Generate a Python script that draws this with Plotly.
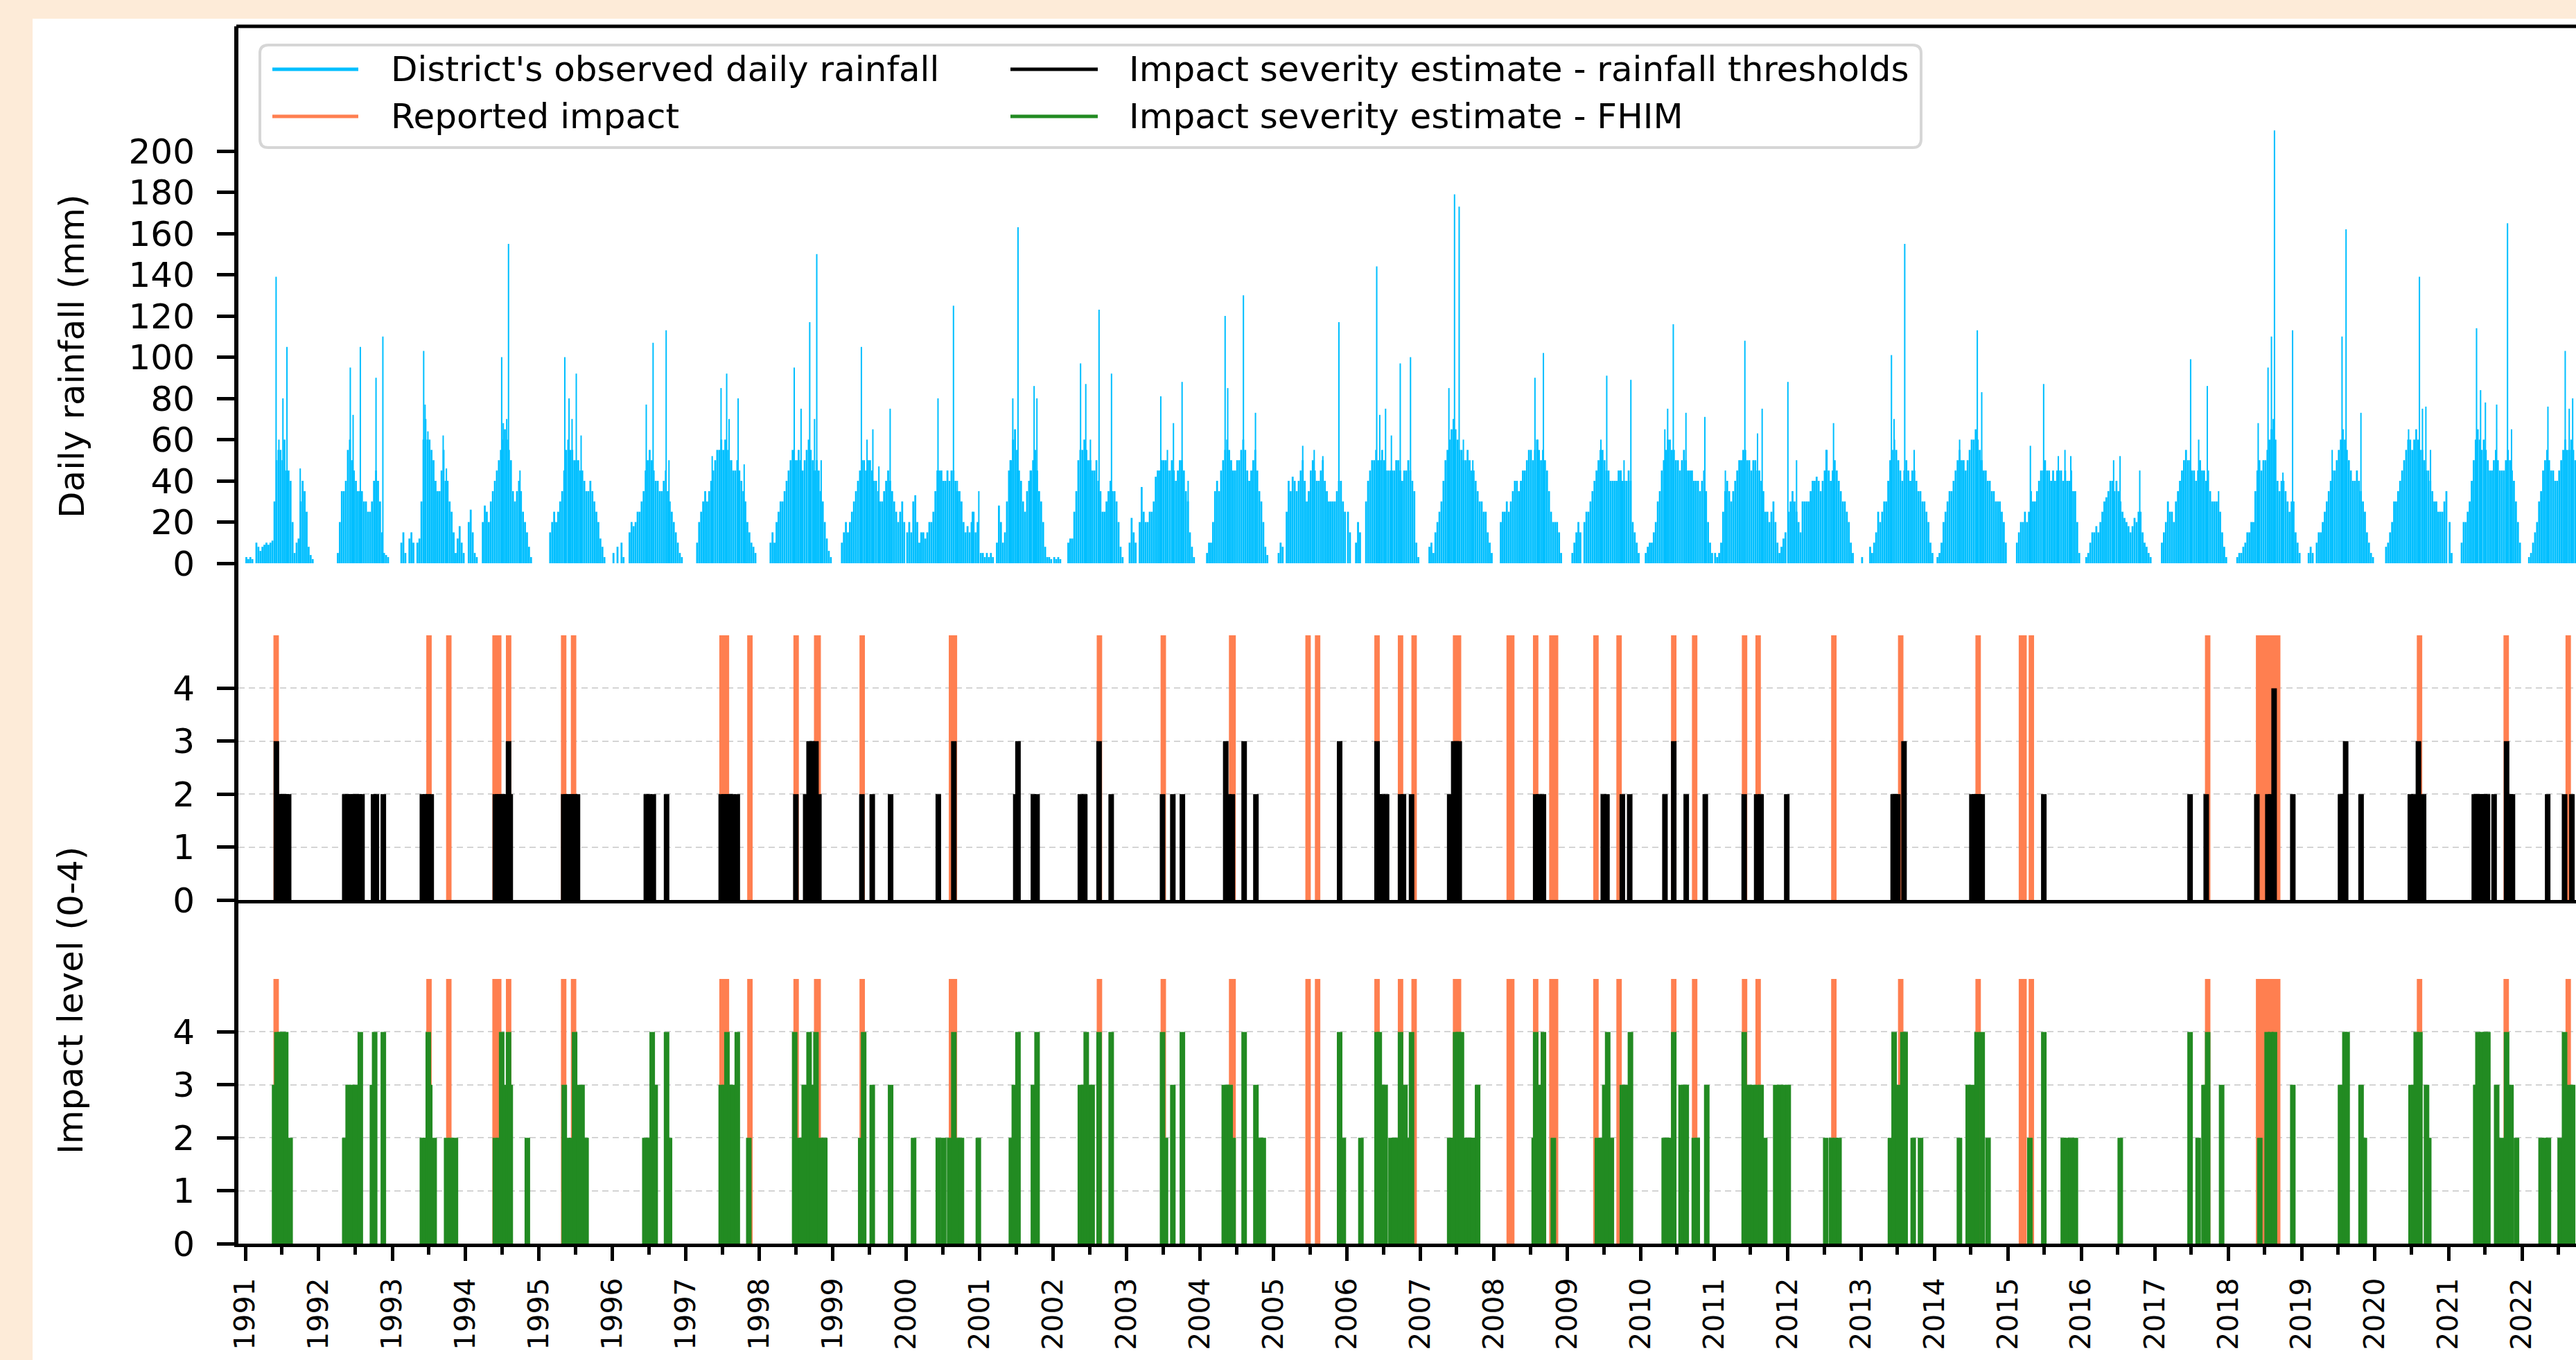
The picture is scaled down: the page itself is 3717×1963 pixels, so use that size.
import datetime as dt
import plotly.graph_objects as go
from plotly.subplots import make_subplots

# ------------------------------------------------------------------
# DATA
# District's observed daily rainfall, summarised per 10-day period (dekad)
# index k = days 10k .. 10k+9 of the year, values in mm
rain_1991 = [3,2,3,2,0,10,8,6,8,9,10,9,10,11,30,50,55,55,50,60,45,45,40,20,5,10,12,30,40,35,25,8,4,2,0,0]
rain_1992 = [0,0,0,0,0,0,0,0,0,5,20,35,35,40,55,60,50,45,40,35,35,35,30,30,25,25,30,40,45,40,30,15,5,4,3,0]
rain_1993 = [0,0,0,0,10,15,5,0,12,15,10,0,10,12,30,60,70,60,60,55,50,40,35,35,45,55,40,40,30,25,15,5,12,18,10,5]
rain_1994 = [0,20,26,15,5,3,0,0,20,28,25,20,30,35,40,45,50,55,60,65,60,55,50,35,30,35,40,35,25,20,15,8,3,0,0,0]
rain_1995 = [0,0,0,0,0,15,20,25,20,25,30,35,45,55,60,55,55,50,50,50,45,45,40,35,35,40,35,30,25,20,12,8,3,0,0,0]
rain_1996 = [5,0,8,0,10,3,0,0,15,20,18,20,25,25,30,35,45,50,55,50,45,40,40,35,35,40,45,35,30,25,20,15,10,5,3,0]
rain_1997 = [0,0,0,0,0,10,20,25,30,35,30,35,40,45,50,55,55,60,55,60,55,50,50,45,45,50,45,40,35,30,20,15,10,8,5,0]
rain_1998 = [0,0,0,0,0,10,15,10,20,25,30,30,35,40,45,50,55,50,50,55,50,45,50,55,60,55,50,45,50,45,35,30,20,12,6,3]
rain_1999 = [0,0,0,0,10,15,20,15,20,25,30,35,40,45,50,50,45,50,50,45,40,40,35,30,30,35,40,45,40,35,30,25,20,25,30,20]
rain_2000 = [15,20,15,30,33,20,10,15,15,12,15,20,20,25,35,45,45,45,40,40,45,40,45,45,40,35,35,30,20,15,18,15,20,25,15,20]
rain_2001 = [5,5,3,5,3,5,3,0,10,28,20,10,15,30,45,50,60,65,55,45,40,30,25,35,40,45,50,55,45,35,30,20,8,3,3,2]
rain_2002 = [3,2,3,2,0,0,0,10,12,12,25,35,50,55,55,60,55,50,50,45,45,50,40,35,25,25,30,35,40,35,35,30,20,8,3,0]
rain_2003 = [0,10,22,15,10,0,20,37,25,20,20,25,25,30,42,45,45,50,50,50,45,45,50,45,40,45,50,50,45,35,30,15,8,3,0,0]
rain_2004 = [0,0,0,5,10,10,20,35,40,35,45,50,55,60,55,50,45,45,50,50,55,60,55,45,40,45,50,55,45,35,30,20,8,4,0,0]
rain_2005 = [0,0,5,10,8,0,25,40,35,42,40,35,40,45,50,40,30,35,45,50,45,40,40,45,50,40,35,30,30,30,30,35,40,40,30,25]
rain_2006 = [25,15,0,0,10,20,15,0,0,30,40,45,50,50,55,50,50,55,50,45,45,45,45,45,50,50,45,40,45,45,50,45,40,35,10,3]
rain_2007 = [0,0,0,0,8,10,5,15,20,25,30,40,50,55,60,65,70,65,60,55,55,50,50,55,50,45,45,40,35,30,30,25,25,15,10,5]
rain_2008 = [0,0,0,20,25,25,30,25,30,35,40,40,35,40,45,45,50,55,55,50,55,60,55,50,55,50,45,35,25,20,20,20,15,5,0,0]
rain_2009 = [0,0,5,10,15,20,15,0,20,25,25,30,35,40,45,50,55,55,50,45,45,40,40,40,40,45,45,40,40,40,45,40,20,15,10,5]
rain_2010 = [0,0,5,8,10,10,15,20,30,35,45,50,55,60,60,55,55,50,50,45,50,55,50,45,45,45,40,40,40,35,40,45,35,20,10,5]
rain_2011 = [5,3,5,10,25,35,40,35,30,35,40,45,50,50,55,55,50,50,45,50,50,45,45,40,35,25,25,20,25,30,20,10,5,8,12,15]
rain_2012 = [25,30,35,30,25,20,15,30,30,30,30,35,40,40,42,40,35,40,45,55,45,40,45,50,45,40,35,30,30,25,20,10,5,0,0,0]
rain_2013 = [3,0,0,0,8,5,10,15,25,20,25,30,30,40,50,55,60,55,50,45,40,45,50,45,40,45,45,40,35,35,30,30,25,20,10,5]
rain_2014 = [0,3,5,10,20,25,30,35,35,40,45,50,55,50,50,45,50,55,60,60,65,60,55,50,45,45,40,40,35,35,30,30,30,25,20,10]
rain_2015 = [0,0,0,0,10,15,20,20,25,20,25,35,30,30,35,40,45,45,50,45,45,40,45,40,45,45,45,40,45,40,40,45,35,35,20,5]
rain_2016 = [0,0,3,5,10,15,15,18,15,20,25,30,32,35,40,40,35,40,35,30,25,22,20,18,15,18,22,20,25,25,15,10,8,5,3,0]
rain_2017 = [0,0,0,10,15,20,30,25,25,20,30,35,40,45,50,55,50,50,45,45,40,45,50,45,45,40,45,35,30,30,30,30,25,15,8,3]
rain_2018 = [0,0,0,0,3,5,5,8,10,15,15,20,20,35,45,50,45,50,50,55,60,65,70,60,40,35,40,40,35,30,25,30,30,15,10,5]
rain_2019 = [0,0,0,5,8,5,0,10,15,15,20,25,30,35,40,45,45,50,55,60,65,60,55,50,45,40,40,45,40,35,30,25,15,10,5,3]
rain_2020 = [0,0,0,0,0,8,10,15,20,30,30,35,40,45,50,55,60,60,55,60,65,60,55,55,50,45,45,40,35,30,30,25,25,25,30,35]
rain_2021 = [20,5,0,0,0,0,10,20,20,25,30,40,50,60,65,60,55,60,55,50,45,45,50,55,50,45,45,45,50,55,50,45,40,30,20,10]
rain_2022 = [0,0,0,3,5,10,15,20,30,35,45,50,55,50,45,45,40,40,45,50,55,60,55,55,60,55,50,45,40,35,30,25,20,10,5,0]

# Individual heavy-rain days: [day of year, mm]
peaks_1991 = [[154,139],[168,60],[188,80],[208,105],[274,46]]
peaks_1992 = [[158,95],[172,72],[208,105],[286,90],[320,110]]
peaks_1993 = [[157,103],[164,77],[178,64],[254,62],[270,46]]
peaks_1994 = [[180,100],[188,68],[205,70],[214,155],[271,45]]
peaks_1995 = [[129,100],[150,80],[165,70],[186,92],[210,62]]
peaks_1996 = [[169,77],[203,107],[268,113],[282,50]]
peaks_1997 = [[131,52],[175,85],[203,92],[215,70],[260,80],[290,48]]
peaks_1998 = [[174,95],[208,75],[251,117],[275,70],[286,150],[308,50]]
peaks_1999 = [[143,105],[171,60],[200,65],[230,47],[286,75]]
peaks_2000 = [[159,80],[236,125],[255,40],[330,25],[362,35]]
peaks_2001 = [[152,50],[165,80],[191,163],[252,45],[271,86],[285,80]]
peaks_2002 = [[137,97],[163,87],[186,60],[229,123],[291,92]]
peaks_2003 = [[171,81],[204,55],[234,68],[277,88],[307,40]]
peaks_2004 = [[126,120],[139,85],[217,130],[277,73]]
peaks_2005 = [[146,57],[203,55],[246,52],[326,117]]
peaks_2006 = [[149,144],[164,72],[193,75],[222,62],[266,97],[317,100]]
peaks_2007 = [[143,85],[171,179],[194,173],[215,60],[262,50]]
peaks_2008 = [[206,90],[220,60],[248,102]]
peaks_2009 = [[168,60],[197,91],[268,45],[283,50],[317,89]]
peaks_2010 = [[121,65],[135,75],[163,116],[226,73],[320,71]]
peaks_2011 = [[57,45],[154,108],[217,63],[240,75]]
peaks_2012 = [[3,88],[46,50],[193,55],[230,68]]
peaks_2013 = [[152,101],[165,70],[218,155],[265,55]]
peaks_2014 = [[126,60],[214,113],[236,83]]
peaks_2015 = [[113,57],[179,87],[252,52],[285,55],[314,52]]
peaks_2016 = [[162,50],[194,52],[292,45]]
peaks_2017 = [[179,99],[219,60],[262,86],[318,35]]
peaks_2018 = [[150,68],[199,95],[216,110],[231,210],[273,44],[321,113]]
peaks_2019 = [[153,55],[202,110],[222,162],[296,73]]
peaks_2020 = [[168,65],[222,139],[237,75],[254,76],[277,55]]
peaks_2021 = [[140,114],[160,84],[184,78],[240,77],[294,165],[314,65]]
peaks_2022 = [[130,76],[216,103],[236,75],[253,80]]

# Reported impact periods (decimal year, start / end)
reported_start = [1991.42,1993.50,1993.77,1994.40,1994.585,1995.335,1995.47,1997.49,1997.87,1998.50,
                  1998.78,1999.40,2000.615,2002.63,2003.50,2004.43,2005.47,2005.60,2006.41,2006.73,
                  2006.915,2007.48,2008.21,2008.57,2008.79,2009.39,2009.705,2010.45,2010.735,2011.415,
                  2011.60,2012.63,2013.54,2014.595,2015.185,2015.32,2017.72,2018.414,2020.605,2021.785,
                  2022.63]
reported_end   = [1991.42,1993.50,1993.77,1994.45,1994.585,1995.335,1995.47,1997.55,1997.87,1998.50,
                  1998.80,1999.40,2000.655,2002.63,2003.50,2004.45,2005.47,2005.60,2006.41,2006.73,
                  2006.915,2007.52,2008.245,2008.57,2008.84,2009.39,2009.705,2010.45,2010.735,2011.415,
                  2011.60,2012.63,2013.54,2014.595,2015.22,2015.32,2017.72,2018.674,2020.605,2021.785,
                  2022.63]
reported_level = 5

# Impact severity estimate - rainfall thresholds (decimal year, level)
threshold_time = [1991.423,1991.46,1991.49,1991.52,1991.56,1991.59,
                  1992.354,1992.393,1992.432,1992.471,1992.51,1992.549,1992.588,1992.745,1992.784,1992.878,
                  1993.41,1993.45,1993.49,1993.53,
                  1994.404,1994.435,1994.466,1994.505,1994.545,1994.584,1994.607,
                  1995.335,1995.366,1995.405,1995.444,1995.484,1995.523,
                  1996.46,1996.50,1996.555,1996.735,
                  1997.479,1997.518,1997.557,1997.596,1997.635,1997.698,
                  1998.496,1998.63,1998.676,1998.715,1998.77,1998.81,
                  1999.396,1999.537,1999.787,
                  2000.436,2000.647,
                  2001.49,2001.52,2001.73,2001.78,
                  2002.37,2002.43,2002.625,2002.79,
                  2003.49,2003.63,2003.76,
                  2004.35,2004.39,2004.44,2004.60,2004.76,
                  2005.90,
                  2006.41,2006.44,2006.48,2006.54,2006.73,2006.77,2006.88,
                  2007.40,2007.455,2007.49,2007.53,
                  2008.57,2008.61,2008.675,
                  2009.49,2009.54,2009.75,2009.85,
                  2010.33,2010.45,2010.62,2010.88,
                  2011.41,2011.58,2011.64,2011.99,
                  2013.437,2013.47,2013.50,2013.585,
                  2014.51,2014.545,2014.58,2014.61,2014.65,
                  2015.49,
                  2017.48,2017.70,
                  2018.39,2018.54,2018.58,2018.625,2018.88,
                  2019.53,2019.565,2019.60,2019.81,
                  2020.48,2020.53,2020.59,2020.66,
                  2021.35,2021.38,2021.42,2021.455,2021.49,2021.53,2021.62,2021.79,2021.84,2021.87,
                  2022.35,2022.58,2022.68]
threshold_level = [3,2,2,2,2,2,
                   2,2,2,2,2,2,2,2,2,2,
                   2,2,2,2,
                   2,2,2,2,2,3,2,
                   2,2,2,2,2,2,
                   2,2,2,2,
                   2,2,2,2,2,2,
                   2,2,3,3,3,2,
                   2,2,2,
                   2,3,
                   2,3,2,2,
                   2,2,3,2,
                   2,2,2,
                   3,2,2,3,2,
                   3,
                   3,2,2,2,2,2,2,
                   2,3,3,3,
                   2,2,2,
                   2,2,2,2,
                   2,3,2,2,
                   2,2,2,2,
                   2,2,2,3,
                   2,2,2,2,2,
                   2,
                   2,2,
                   2,2,2,4,2,
                   2,2,3,2,
                   2,2,3,2,
                   2,2,2,2,2,2,2,3,2,2,
                   2,2,2]

# Impact severity estimate - FHIM (decimal year, level)
fhim_time = [1991.399,1991.43,1991.47,1991.51,1991.55,1991.61,
             1992.354,1992.40,1992.45,1992.495,1992.565,1992.73,1992.76,1992.878,
             1993.41,1993.45,1993.49,1993.51,1993.57,1993.74,1993.80,1993.86,
             1994.404,1994.45,1994.49,1994.53,1994.584,1994.607,1994.84,
             1995.343,1995.39,1995.444,1995.484,1995.546,1995.585,1995.64,
             1996.44,1996.49,1996.54,1996.58,1996.735,1996.775,
             1997.479,1997.518,1997.557,1997.596,1997.635,1997.698,1997.855,
             1998.48,1998.535,1998.575,1998.61,1998.676,1998.715,1998.77,1998.83,1998.89,
             1999.38,1999.42,1999.537,1999.787,
             2000.10,2000.436,2000.51,2000.59,2000.647,2000.686,2000.75,2000.98,
             2001.43,2001.47,2001.52,2001.73,2001.78,
             2002.37,2002.42,2002.45,2002.49,2002.53,2002.625,2002.79,
             2003.49,2003.53,2003.63,2003.76,
             2004.33,2004.37,2004.41,2004.45,2004.60,2004.76,2004.82,2004.86,
             2005.90,2005.95,
             2006.19,2006.41,2006.44,2006.48,2006.52,2006.60,2006.64,2006.68,2006.73,2006.79,2006.83,2006.88,
             2007.40,2007.44,2007.48,2007.52,2007.56,2007.60,2007.64,2007.68,2007.72,2007.76,2007.78,
             2008.55,2008.57,2008.63,2008.675,2008.81,
             2009.41,2009.46,2009.51,2009.55,2009.60,2009.75,2009.79,2009.86,
             2010.32,2010.36,2010.40,2010.45,2010.55,2010.59,2010.62,2010.73,2010.77,2010.90,
             2011.41,2011.47,2011.53,2011.58,2011.64,2011.69,2011.84,2011.90,2011.95,2012.01,
             2012.52,2012.60,2012.65,2012.70,
             2013.40,2013.45,2013.50,2013.57,2013.60,2013.71,2013.81,
             2014.34,2014.46,2014.51,2014.58,2014.65,2014.73,
             2015.30,2015.49,2015.755,2015.80,2015.86,2015.92,
             2016.53,
             2017.48,2017.59,2017.67,2017.72,2017.91,
             2018.43,2018.53,2018.58,2018.63,2018.88,
             2019.53,2019.59,2019.62,2019.81,2019.855,
             2020.49,2020.56,2020.61,2020.70,2020.73,
             2021.37,2021.40,2021.455,2021.50,2021.535,2021.655,2021.72,2021.79,2021.85,2021.925,
             2022.26,2022.31,2022.36,2022.52,2022.58,2022.64,2022.69]
fhim_level = [3,4,4,4,4,2,
              2,3,3,3,4,3,4,4,
              2,2,4,3,2,2,2,2,
              2,2,4,3,4,3,2,
              3,2,2,4,3,3,2,
              2,2,4,3,4,2,
              3,3,4,3,3,4,2,
              4,2,2,3,4,3,4,2,2,
              2,4,3,3,
              2,2,2,2,4,2,2,2,
              2,3,4,3,4,
              3,3,4,3,3,4,4,
              4,2,3,4,
              3,3,3,2,4,3,2,2,
              4,2,
              2,4,4,3,3,2,2,2,4,3,2,4,
              2,2,4,4,4,2,2,2,2,2,3,
              2,4,3,4,2,
              2,2,3,4,2,3,3,4,
              2,2,2,4,3,3,3,2,2,3,
              4,3,3,3,3,2,3,3,3,3,
              2,2,2,2,
              2,4,3,4,4,2,2,
              2,3,3,4,4,2,
              2,4,2,2,2,2,
              2,
              4,2,3,4,3,
              2,4,4,4,3,
              3,4,4,3,2,
              3,4,4,3,2,
              3,4,4,4,4,3,2,4,3,2,
              2,2,2,2,4,3,3]

year_labels = [str(y) for y in range(1991, 2023)]
rain_ticks = [0, 20, 40, 60, 80, 100, 120, 140, 160, 180, 200]
impact_ticks = [0, 1, 2, 3, 4]

# ------------------------------------------------------------------
rain_dekads = {1991: rain_1991, 1992: rain_1992, 1993: rain_1993, 1994: rain_1994, 1995: rain_1995,
               1996: rain_1996, 1997: rain_1997, 1998: rain_1998, 1999: rain_1999, 2000: rain_2000,
               2001: rain_2001, 2002: rain_2002, 2003: rain_2003, 2004: rain_2004, 2005: rain_2005,
               2006: rain_2006, 2007: rain_2007, 2008: rain_2008, 2009: rain_2009, 2010: rain_2010,
               2011: rain_2011, 2012: rain_2012, 2013: rain_2013, 2014: rain_2014, 2015: rain_2015,
               2016: rain_2016, 2017: rain_2017, 2018: rain_2018, 2019: rain_2019, 2020: rain_2020,
               2021: rain_2021, 2022: rain_2022}
rain_peaks = {1991: peaks_1991, 1992: peaks_1992, 1993: peaks_1993, 1994: peaks_1994, 1995: peaks_1995,
              1996: peaks_1996, 1997: peaks_1997, 1998: peaks_1998, 1999: peaks_1999, 2000: peaks_2000,
              2001: peaks_2001, 2002: peaks_2002, 2003: peaks_2003, 2004: peaks_2004, 2005: peaks_2005,
              2006: peaks_2006, 2007: peaks_2007, 2008: peaks_2008, 2009: peaks_2009, 2010: peaks_2010,
              2011: peaks_2011, 2012: peaks_2012, 2013: peaks_2013, 2014: peaks_2014, 2015: peaks_2015,
              2016: peaks_2016, 2017: peaks_2017, 2018: peaks_2018, 2019: peaks_2019, 2020: peaks_2020,
              2021: peaks_2021, 2022: peaks_2022}


def dec2dt(y):
    yr = int(y)
    start = dt.datetime(yr, 1, 1)
    ndays = (dt.datetime(yr + 1, 1, 1) - start).days
    return start + dt.timedelta(days=(y - yr) * ndays)


DAY_MS = 86400000.0

fill_x, fill_y = [], []
for yr, vals in rain_dekads.items():
    for k, v in enumerate(vals):
        if v > 0:
            fill_x.append(dt.datetime(yr, 1, 1) + dt.timedelta(days=10 * k + 5))
            fill_y.append(v)
peak_x, peak_y = [], []
for yr, pk in rain_peaks.items():
    for doy, v in pk:
        peak_x.append(dt.datetime(yr, 1, 1) + dt.timedelta(days=doy - 1))
        peak_y.append(v)

rep_x, rep_w, rep_y = [], [], []
for s, e in zip(reported_start, reported_end):
    rep_x.append(dec2dt((s + e) / 2.0))
    rep_w.append(((e - s) * 365.25 + 27) * DAY_MS)
    rep_y.append(reported_level)


def spikes(times, levels):
    xs, ys = [], []
    for t, l in zip(times, levels):
        d = dec2dt(t)
        xs += [d, d, None]
        ys += [0, l, None]
    return xs, ys


thr_x, thr_y = spikes(threshold_time, threshold_level)
fh_x, fh_y = spikes(fhim_time, fhim_level)

# ------------------------------------------------------------------
W, H = 3717, 1963
PX_L, PX_R, PX_T, PX_B = 344, 3717, 38, 1795


def pxx(p):
    return (p - PX_L) / (PX_R - PX_L)


def pxy(p):
    return (PX_B - p) / (PX_B - PX_T)


BLUE = "#00BFFF"
ORANGE = "#FF7F50"
GREEN = "#228B22"
BEIGE = "#FDEBD8"
FONT = "DejaVu Sans"

fig = make_subplots(rows=3, cols=1, shared_xaxes=True, vertical_spacing=0)

fig.add_trace(go.Bar(x=fill_x, y=fill_y, width=9.5 * DAY_MS, marker_color=BLUE,
                     marker_line_width=0, name="District's observed daily rainfall",
                     showlegend=False), row=1, col=1)
fig.add_trace(go.Bar(x=peak_x, y=peak_y, width=7 * DAY_MS, marker_color=BLUE,
                     marker_line_width=0, name="District's observed daily rainfall (peaks)",
                     showlegend=False), row=1, col=1)

for r in (2, 3):
    fig.add_trace(go.Bar(x=rep_x, y=rep_y, width=rep_w, marker_color=ORANGE,
                         marker_line_width=0, name="Reported impact", showlegend=False),
                  row=r, col=1)
fig.add_trace(go.Scatter(x=thr_x, y=thr_y, mode="lines", line=dict(color="black", width=8),
                         name="Impact severity estimate - rainfall thresholds",
                         showlegend=False, connectgaps=False), row=2, col=1)
fig.add_trace(go.Scatter(x=fh_x, y=fh_y, mode="lines", line=dict(color=GREEN, width=8),
                         name="Impact severity estimate - FHIM",
                         showlegend=False, connectgaps=False), row=3, col=1)

xr = [dec2dt(1990.9056), dec2dt(2022.736)]
common_x = dict(range=xr, type="date", showgrid=False, zeroline=False)
fig.update_xaxes(**common_x)
fig.update_xaxes(showline=False, ticks="", showticklabels=False, row=1, col=1)
fig.update_xaxes(showline=True, linecolor="black", linewidth=5, ticks="", showticklabels=False,
                 row=2, col=1)
fig.update_xaxes(showline=True, linecolor="black", linewidth=5, ticks="outside", ticklen=20,
                 tickwidth=4.5, tickcolor="black",
                 tickvals=[dt.datetime(int(y), 1, 1) for y in year_labels], ticktext=year_labels,
                 tickangle=-90, tickfont=dict(family=FONT, size=41, color="black"),
                 ticklabelstandoff=8,
                 minor=dict(dtick="M6", tick0="1991-01-01", ticks="outside", ticklen=11,
                            tickwidth=4.5, tickcolor="black", showgrid=False),
                 row=3, col=1)

ytick_font = dict(family=FONT, size=50, color="black")
common_y = dict(showline=True, linecolor="black", linewidth=6, ticks="outside", ticklen=25,
                tickwidth=4.5, tickcolor="black", zeroline=False, tickfont=ytick_font,
                ticklabelstandoff=22)
fig.update_yaxes(**common_y)
fig.update_yaxes(domain=[pxy(850), 1.0],
                 range=[-(850 - 813) / 2.975, (813 - 38) / 2.975],
                 tickvals=rain_ticks, showgrid=False, row=1, col=1)
grid = dict(showgrid=True, gridcolor="#d4d4d4", gridwidth=2, griddash="9px,6px")
fig.update_yaxes(domain=[pxy(1299), pxy(850)], range=[0, (1299 - 850) / 76.4],
                 tickvals=impact_ticks, **grid, row=2, col=1)
fig.update_yaxes(domain=[0.0, pxy(1299)], range=[0, (1795 - 1299) / 76.4],
                 tickvals=impact_ticks, **grid, row=3, col=1)

shapes = []
# white page area on the beige background
shapes.append(dict(type="rect", xref="paper", yref="paper", x0=pxx(47), x1=pxx(3717 + 5),
                   y0=pxy(1963 + 5), y1=pxy(27), fillcolor="white", line_width=0, layer="below"))
# top spine
shapes.append(dict(type="line", xref="paper", yref="paper", x0=pxx(341), x1=1.0, y0=1.0, y1=1.0,
                   line=dict(color="black", width=5)))
# legend frame (rounded)
lx0, lx1, ly0, ly1 = pxx(375), pxx(2772), pxy(213), pxy(65)
rx, ry = 12 / (PX_R - PX_L), 12 / (PX_B - PX_T)
path = (f"M {lx0+rx},{ly0} L {lx1-rx},{ly0} Q {lx1},{ly0} {lx1},{ly0+ry} "
        f"L {lx1},{ly1-ry} Q {lx1},{ly1} {lx1-rx},{ly1} L {lx0+rx},{ly1} "
        f"Q {lx0},{ly1} {lx0},{ly1-ry} L {lx0},{ly0+ry} Q {lx0},{ly0} {lx0+rx},{ly0} Z")
shapes.append(dict(type="path", xref="paper", yref="paper", path=path, fillcolor="white",
                   line=dict(color="#d6d6d6", width=4)))
legend_items = [
    ("District's observed daily rainfall", BLUE, 393, 517, 562, 100),
    ("Reported impact", ORANGE, 393, 517, 562, 168),
    ("Impact severity estimate - rainfall thresholds", "black", 1458, 1584, 1627, 100),
    ("Impact severity estimate - FHIM", GREEN, 1458, 1584, 1627, 168),
]
annotations = []
for text, col, x0, x1, tx, yy in legend_items:
    shapes.append(dict(type="line", xref="paper", yref="paper", x0=pxx(x0), x1=pxx(x1),
                       y0=pxy(yy), y1=pxy(yy), line=dict(color=col, width=5)))
    annotations.append(dict(text=text, xref="paper", yref="paper", x=pxx(tx), y=pxy(yy),
                            xanchor="left", yanchor="middle", showarrow=False,
                            font=dict(family=FONT, size=50, color="black")))

annotations.append(dict(text="Daily rainfall (mm)", xref="paper", yref="paper", x=pxx(104),
                        y=pxy(514), textangle=-90, xanchor="center", yanchor="middle",
                        showarrow=False, font=dict(family=FONT, size=50, color="black")))
annotations.append(dict(text="Impact level (0-4)", xref="paper", yref="paper", x=pxx(102),
                        y=pxy(1444), textangle=-90, xanchor="center", yanchor="middle",
                        showarrow=False, font=dict(family=FONT, size=50, color="black")))

fig.update_layout(width=W, height=H, margin=dict(l=PX_L, r=W - PX_R, t=PX_T, b=H - PX_B),
                  paper_bgcolor=BEIGE, plot_bgcolor="rgba(0,0,0,0)", barmode="overlay",
                  showlegend=False, shapes=shapes, annotations=annotations,
                  font=dict(family=FONT, color="black"))

fig.write_html("out.html", config={"displayModeBar": False},
               post_script="document.body.style.margin='0';document.body.style.overflow='hidden';")
